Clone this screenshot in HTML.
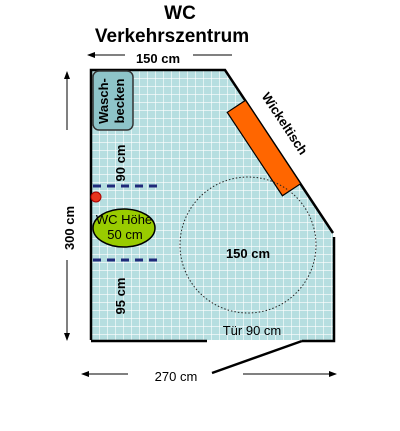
<!DOCTYPE html>
<html><head><meta charset="utf-8"><style>
body{margin:0;background:#fff;width:400px;height:426px;overflow:hidden}
svg text{font-family:"Liberation Sans",sans-serif;font-weight:bold}
</style></head><body>
<svg width="400" height="426">
<defs>
<pattern id="g" width="8" height="8" patternUnits="userSpaceOnUse" x="91" y="70">
<rect width="8" height="8" fill="#b6dee0"/>
<path d="M0 0H8M0 0V8" stroke="#fff" stroke-width="1.2"/>
</pattern>
<marker id="ah" markerWidth="8" markerHeight="6" refX="7" refY="3" orient="auto"><path d="M0 0L8 3L0 6z" fill="#000"/></marker>
</defs>
<text x="180" y="19" font-size="19" text-anchor="middle">WC</text>
<text x="172" y="42" font-size="19" text-anchor="middle">Verkehrszentrum</text>
<polygon points="91,70 225,70 333,233 334,340 91,340" fill="url(#g)"/>
<path d="M91,340 V70 H225 L333,233 M334,237 V341 H302 M207,341 H91" fill="none" stroke="#000" stroke-width="2.5"/>
<line x1="302" y1="341" x2="212" y2="373" stroke="#000" stroke-width="2.5"/>
<rect x="93" y="71" width="40" height="59" rx="6" fill="#8ec4c9" stroke="#333" stroke-width="1.5"/>
<text transform="translate(108,101) rotate(-90)" font-size="13" text-anchor="middle">Wasch-</text>
<text transform="translate(124,101) rotate(-90)" font-size="13" text-anchor="middle">becken</text>
<rect x="-50" y="-11" width="100" height="22" fill="#ff6600" stroke="#000" stroke-width="1.2" transform="translate(264,148) rotate(56.5)"/>
<text transform="translate(281,126) rotate(56.5)" font-size="13" text-anchor="middle">Wickeltisch</text>
<circle cx="248" cy="245" r="68" fill="none" stroke="#222" stroke-width="1" stroke-dasharray="1.5,2"/>
<text x="248" y="258" font-size="13" text-anchor="middle">150 cm</text>
<text x="252" y="335" font-size="13" font-weight="normal" text-anchor="middle" style="font-weight:normal">Tür 90 cm</text>
<line x1="93" y1="186" x2="162" y2="186" stroke="#1f2a7a" stroke-width="3" stroke-dasharray="8,6"/>
<line x1="93" y1="260" x2="162" y2="260" stroke="#1f2a7a" stroke-width="3" stroke-dasharray="8,6"/>
<ellipse cx="124" cy="228" rx="31" ry="19" fill="#99cc00" stroke="#000" stroke-width="1.5"/>
<text x="124" y="224" font-size="13" text-anchor="middle" style="font-weight:normal">WC Höhe</text>
<text x="125" y="239" font-size="13" text-anchor="middle" style="font-weight:normal">50 cm</text>
<circle cx="96" cy="197" r="5" fill="#e8341c" stroke="#a00"/>
<text transform="translate(125,163) rotate(-90)" font-size="13" text-anchor="middle">90 cm</text>
<text transform="translate(125,296) rotate(-90)" font-size="13" text-anchor="middle">95 cm</text>
<text transform="translate(74,228) rotate(-90)" font-size="13" text-anchor="middle">300 cm</text>
<line x1="67" y1="130" x2="67" y2="72" stroke="#000" marker-end="url(#ah)"/>
<line x1="67" y1="260" x2="67" y2="340" stroke="#000" marker-end="url(#ah)"/>
<text x="158" y="63" font-size="13" text-anchor="middle">150 cm</text>
<line x1="125" y1="55" x2="88" y2="55" stroke="#000" marker-end="url(#ah)"/>
<line x1="193" y1="55" x2="232" y2="55" stroke="#000"/>
<text x="176" y="381" font-size="13" text-anchor="middle" style="font-weight:normal">270 cm</text>
<line x1="128" y1="374" x2="82" y2="374" stroke="#000" marker-end="url(#ah)"/>
<line x1="243" y1="374" x2="336" y2="374" stroke="#000" marker-end="url(#ah)"/>
</svg>
</body></html>
